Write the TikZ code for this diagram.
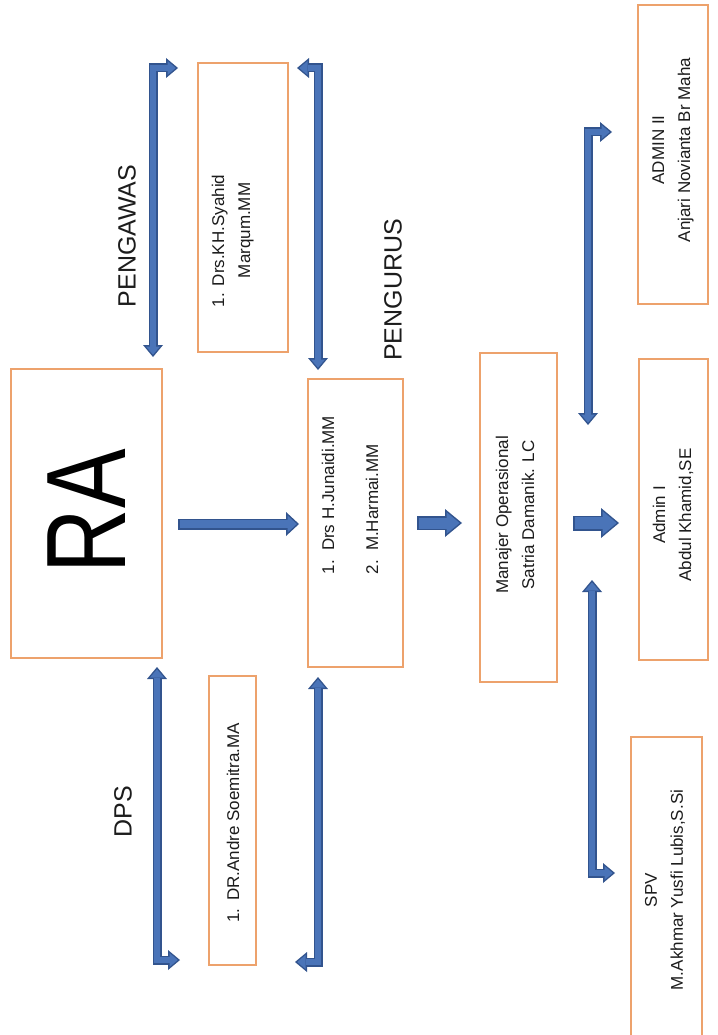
\documentclass[tikz,border=0pt]{standalone}
\usepackage{fontspec}
\setmainfont{Liberation Sans}
\usepackage{graphicx}
\usetikzlibrary{arrows.meta}
\definecolor{boxor}{RGB}{237,162,108}
\definecolor{bluedk}{RGB}{50,84,142}
\definecolor{bluefl}{RGB}{74,116,184}
\definecolor{txtc}{RGB}{28,28,28}
\tikzset{
  headout/.tip={Triangle[width=20pt,length=12pt,line width=0pt]},
  headin/.tip={Triangle[width=14pt,length=8.2pt,line width=0pt]},
  orgbox/.style={draw=boxor,line width=2pt,fill=white,inner sep=0pt},
  txt/.style={rotate=90,text=txtc,inner sep=0pt,font=\fontsize{17}{26}\selectfont},
  lbl/.style={rotate=90,text=txtc,inner sep=0pt,font=\fontsize{25}{30}\selectfont},
  barout/.style={draw=bluedk,line width=9pt,line join=miter,headout-headout},
  barin/.style={draw=bluefl,line width=6pt,line join=miter,headin-headin,shorten <=2.3pt,shorten >=2.3pt},
}
\begin{document}
\begin{tikzpicture}[x=1pt,y=-1pt]
\useasboundingbox (0,0) rectangle (717,1035);
\fill[white] (0,0) rectangle (717,1035);

% boxes
\node[orgbox,minimum width=151pt,minimum height=289pt] (ra) at (86.5,513.5) {};
\node[orgbox,minimum width=90pt,minimum height=289pt] (pgw) at (243,207.5) {};
\node[orgbox,minimum width=95pt,minimum height=288pt] (png) at (355.5,523) {};
\node[orgbox,minimum width=47pt,minimum height=289pt] (dps) at (232.5,820.5) {};
\node[orgbox,minimum width=77pt,minimum height=329pt] (mgr) at (518.5,517.5) {};
\node[orgbox,minimum width=70pt,minimum height=299pt] (adm2) at (673,154.5) {};
\node[orgbox,minimum width=69pt,minimum height=301pt] (adm1) at (673.5,509.5) {};
\node[orgbox,minimum width=71pt,minimum height=310pt] (spv) at (666.5,892) {};

% texts
\node[rotate=90,inner sep=0pt,text=black,font=\fontsize{113}{113}\selectfont] (ratext) at (87,511) {\scalebox{0.79}[1]{RA}};
\node[lbl] (pgwlbl) at (127,236) {PENGAWAS};
\node[lbl] (pnglbl) at (393,290) {PENGURUS};
\node[lbl] (dpslbl) at (123,812) {DPS};

\node[txt] (pgwtext) at (232,241) {\begin{tabular}{@{}l@{\hspace{7pt}}c@{}}1. & Drs.KH.Syahid\\ & Marqum.MM\end{tabular}};
\node[txt,align=left] (pngtext) at (350,495) {1.\hspace{9pt}Drs H.Junaidi.MM\\[18pt]2.\hspace{9pt}M.Harmai.MM};
\node[txt] (dpstext) at (233,823) {1.\hspace{8pt}DR.Andre Soemitra.MA};
\node[txt,align=center] (mgrtext) at (515,515) {Manajer Operasional\\Satria Damanik. LC};
\node[txt,align=center] (adm2text) at (673,150) {ADMIN II\\Anjari Novianta Br Maha};
\node[txt,align=center] (adm1text) at (673,515) {Admin I\\Abdul Khamid,SE};
\node[txt,align=center] (spvtext) at (665,890) {SPV\\M.Akhmar Yusfi Lubis,S.Si};

% connector end points
\coordinate (pA1) at (178,68);  \coordinate (pA2) at (153,357);
\coordinate (pB1) at (297,68);  \coordinate (pB2) at (318,370);
\coordinate (dA1) at (157,667); \coordinate (dA2) at (180,960);
\coordinate (dB1) at (318,677); \coordinate (dB2) at (295,962);
\coordinate (aA1) at (612,132); \coordinate (aA2) at (588,425);
\coordinate (sA1) at (592,580); \coordinate (sA2) at (615,873);
\coordinate (r1) at (178,524);  \coordinate (r2) at (299,524);
\coordinate (m1) at (417,523);  \coordinate (m2) at (462,523);
\coordinate (k1) at (573,523);  \coordinate (k2) at (619,523);

% elbow double arrows
\draw[barout] (pA1) -| (pA2);  \draw[barin] (pA1) -| (pA2);
\draw[barout] (pB1) -| (pB2);  \draw[barin] (pB1) -| (pB2);
\draw[barout] (dA1) |- (dA2);  \draw[barin] (dA1) |- (dA2);
\draw[barout] (dB1) |- (dB2);  \draw[barin] (dB1) |- (dB2);
\draw[barout] (aA1) -| (aA2);  \draw[barin] (aA1) -| (aA2);
\draw[barout] (sA1) |- (sA2);  \draw[barin] (sA1) |- (sA2);

% straight block arrows
\draw[draw=bluedk,line width=11pt,-{Triangle[width=24pt,length=13pt,line width=0pt]}] (r1) -- (r2);
\draw[draw=bluefl,line width=8pt,-{Triangle[width=17.2pt,length=9.3pt,line width=0pt]},shorten <=1.5pt,shorten >=2.2pt] (r1) -- (r2);

\draw[draw=bluedk,line width=14pt,-{Triangle[width=28pt,length=17pt,line width=0pt]}] (m1) -- (m2);
\draw[draw=bluefl,line width=11pt,-{Triangle[width=21.6pt,length=13.1pt,line width=0pt]},shorten <=1.5pt,shorten >=2.4pt] (m1) -- (m2);

\draw[draw=bluedk,line width=15pt,-{Triangle[width=30pt,length=18pt,line width=0pt]}] (k1) -- (k2);
\draw[draw=bluefl,line width=12pt,-{Triangle[width=23.7pt,length=14.2pt,line width=0pt]},shorten <=1.5pt,shorten >=2.3pt] (k1) -- (k2);
\end{tikzpicture}
\end{document}
